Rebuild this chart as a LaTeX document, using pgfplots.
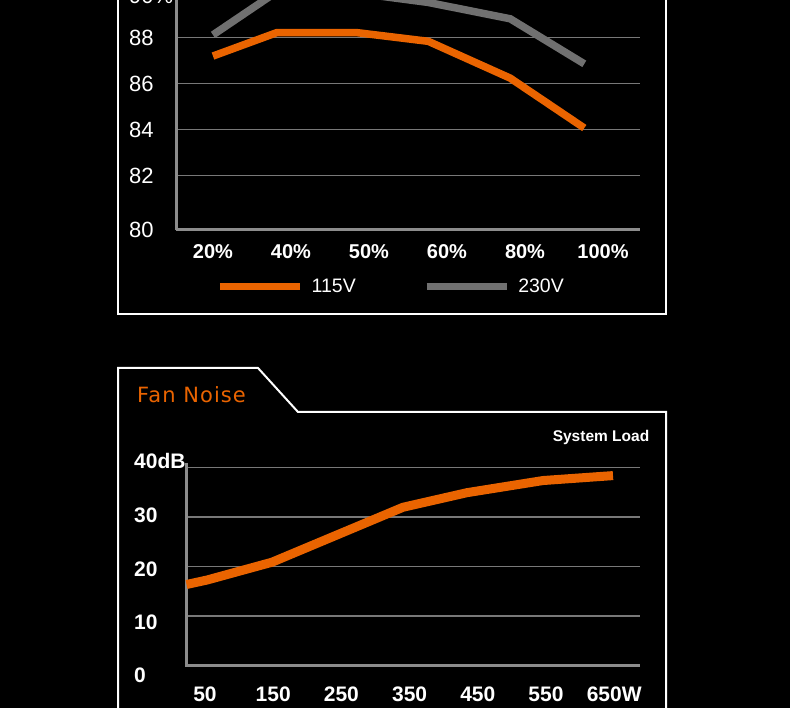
\documentclass[border=0pt]{standalone}
\usepackage{pgfplots}
\pgfplotsset{compat=1.18}
\usepackage{fontspec}
\setmainfont{Liberation Sans}
\newfontfamily\titlefont[LetterSpace=5]{DejaVu Sans}
\definecolor{org}{RGB}{234,100,0}
\definecolor{lgray}{RGB}{112,112,112}
\definecolor{gridc}{RGB}{120,120,120}
\definecolor{axg}{RGB}{140,140,140}
\begin{document}
\begin{tikzpicture}[x=1pt,y=1pt]
\useasboundingbox (0,0) rectangle (790,708);
\fill[black] (0,0) rectangle (790,708);
\clip (0,0) rectangle (790,708);
% frames
\draw[white, line width=2pt] (118,730) -- (118,394) -- (666,394) -- (666,730);
\draw[white, line width=2pt] (118,-20) -- (118,340) -- (258,340) -- (298,296) -- (666,296) -- (666,-20);
\node[anchor=west, inner sep=0pt, text=org, font=\titlefont\fontsize{21}{21}\selectfont] at (137,313) {Fan Noise};
\node[anchor=center, inner sep=0pt, text=white, font=\bfseries\fontsize{15.5}{16}\selectfont] at (601,270) {System Load};

% top chart: efficiency
\begin{axis}[
  at={(176pt,478.3pt)}, anchor=south west, scale only axis,
  width=464pt, height=251.85pt,
  xmin=-0.474, xmax=5.474, ymin=79.65, ymax=90.6,
  clip=false,
  axis lines=left, axis line style={-, draw=axg, line width=3pt},
  major tick length=0pt,
  xtick={0,1,2,3,4,5}, xticklabels={20\%,40\%,50\%,60\%,80\%,100\%},
  ytick={79.65,82,84,86,88,89.81}, yticklabels={80,82,84,86,88,90\%},
  ymajorgrids, grid style={draw=gridc, line width=1.6pt},
  /pgf/number format/assume math mode=true,
  every tick label/.append style={text=white, inner sep=0pt},
  yticklabel style={anchor=west, xshift=-47pt, font=\fontsize{22}{22}\selectfont},
  xticklabel style={anchor=center, yshift=-22.3pt, font=\bfseries\fontsize{20}{20}\selectfont},
  legend columns=2,
  legend image code/.code={\draw[#1] (0pt,0pt) -- (80pt,0pt);},
  legend style={at={(0.0862,-0.2263)}, anchor=west, draw=none, fill=none, inner sep=0pt,
    font=\fontsize{19.5}{20}\selectfont, text=white, nodes={inner sep=0pt},
    /tikz/every odd column/.append style={column sep=8pt},
    /tikz/every even column/.append style={column sep=67pt}},
]
\addplot[org, line width=7.5pt] coordinates {(0,87.2) (0.82,88.22) (1.84,88.22) (2.76,87.84) (3.81,86.24) (4.76,84.07)};
\addlegendentry{115V}
\addplot[lgray, line width=7.5pt] coordinates {(0,88.12) (0.82,90.0) (1.84,89.94) (2.76,89.53) (3.81,88.82) (4.76,86.86)};
\addlegendentry{230V}
\end{axis}

% bottom chart: fan noise
\begin{axis}[
  at={(186.5pt,27.45pt)}, anchor=south west, scale only axis,
  width=453.5pt, height=220.3pt,
  xmin=22.9, xmax=687.8, ymin=-3, ymax=41.5,
  clip=false,
  axis line style={draw=none}, major tick length=0pt,
  xtick={50,150,250,350,450,550,650}, xticklabels={50,150,250,350,450,550,650W},
  ytick={-1.9,8.7,19.5,30.3,41.35}, yticklabels={0,10,20,30,40dB},
  extra y ticks={10,20,30,40}, extra y tick labels={},
  extra y tick style={ymajorgrids=true, grid style={draw=gridc, line width=1.6pt}},
  /pgf/number format/assume math mode=true,
  every tick label/.append style={text=white, inner sep=0pt},
  yticklabel style={anchor=west, xshift=-52.5pt, font=\bfseries\fontsize{21}{21}\selectfont},
  xticklabel style={anchor=center, yshift=-13.5pt, font=\bfseries\fontsize{21}{21}\selectfont},
]
\draw[axg, line width=3pt] (axis cs:22.9,40.95) -- (axis cs:22.9,0) -- (axis cs:687.8,0);
\addplot[org, line width=9pt] coordinates {(22.9,16.4) (52.9,17.3) (148.2,20.9) (340.3,32.0) (434.2,34.95) (545.6,37.4) (648.2,38.4)};
\end{axis}
\end{tikzpicture}
\end{document}
